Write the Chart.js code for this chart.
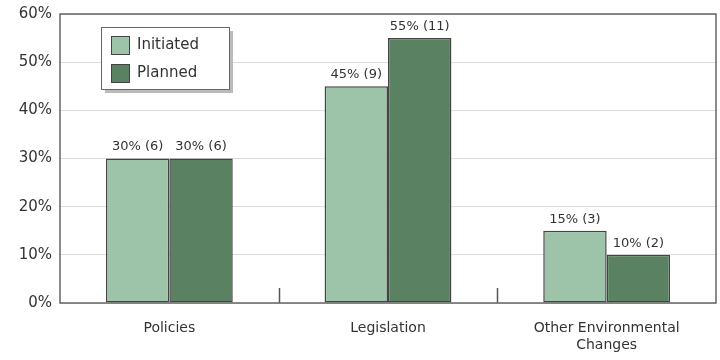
<!DOCTYPE html>
<html>
<head>
<meta charset="utf-8">
<script src="https://cdn.jsdelivr.net/npm/chart.js@4/dist/chart.umd.min.js"></script>
<style>
	html, body { margin: 0; padding: 0; background: #fff; }
	#wrap { width: 720px; height: 360px; }
</style>
</head>
<body>
<div id="wrap"><canvas id="actionsChart" width="720" height="360"></canvas></div>
<script>
// values
const categories = ["Policies", "Legislation", ["Other Environmental", "Changes"]];
const initiatedPct = [30, 45, 15];
const initiatedCount = [6, 9, 3];
const plannedPct = [30, 55, 10];
const plannedCount = [6, 11, 2];
const yTicks = [0, 10, 20, 30, 40, 50, 60];

const FONT = "'DejaVu Sans', Verdana, sans-serif";

// frame, grid marks between groups, value labels and legend box
const decorations = {
	id: "decorations",
	afterDatasetsDraw(chart) {
		const { ctx, chartArea: a, scales } = chart;
		ctx.save();

		// little tick marks between categories
		ctx.strokeStyle = "#555";
		ctx.lineWidth = 1.5;
		for (let i = 0; i < categories.length - 1; i++) {
			const x = Math.round((scales.x.getPixelForValue(i) + scales.x.getPixelForValue(i + 1)) / 2) + 0.5;
			ctx.beginPath();
			ctx.moveTo(x, a.bottom);
			ctx.lineTo(x, a.bottom - 15);
			ctx.stroke();
		}

		// value labels
		ctx.fillStyle = "#333";
		ctx.font = "13px " + FONT;
		ctx.textAlign = "center";
		ctx.textBaseline = "bottom";
		const counts = [initiatedCount, plannedCount];
		chart.data.datasets.forEach((ds, di) => {
			chart.getDatasetMeta(di).data.forEach((bar, i) => {
				ctx.fillText(ds.data[i] + "% (" + counts[di][i] + ")", bar.x, bar.y - 5);
			});
		});

		// plot frame
		ctx.strokeStyle = "#666";
		ctx.lineWidth = 1.5;
		ctx.strokeRect(a.left, a.top, a.right - a.left, a.bottom - a.top);

		// legend
		const lx = a.left + 41, ly = a.top + 13, lw = 128, lh = 62;
		ctx.fillStyle = "#bbb";
		ctx.fillRect(lx + 4, ly + 4, lw, lh);
		ctx.fillStyle = "#fff";
		ctx.fillRect(lx, ly, lw, lh);
		ctx.strokeStyle = "#666";
		ctx.lineWidth = 1;
		ctx.strokeRect(lx + 0.5, ly + 0.5, lw, lh);
		ctx.font = "15px " + FONT;
		ctx.textAlign = "left";
		ctx.textBaseline = "middle";
		chart.data.datasets.forEach((ds, di) => {
			const y = ly + 18 + di * 28;
			ctx.fillStyle = ds.backgroundColor;
			ctx.fillRect(lx + 10, y - 9, 18, 18);
			ctx.strokeStyle = "#444";
			ctx.strokeRect(lx + 10.5, y - 8.5, 18, 18);
			ctx.fillStyle = "#333";
			ctx.fillText(ds.label, lx + 36, y);
		});

		ctx.restore();
	},
};

const ctx = document.getElementById("actionsChart").getContext("2d");
new Chart(ctx, {
	type: "bar",
	data: {
		labels: categories,
		datasets: [
			{
				label: "Initiated",
				data: initiatedPct,
				backgroundColor: "#9dc3a9",
				borderColor: "#444",
				borderWidth: 1.5,
				borderSkipped: false,
			},
			{
				label: "Planned",
				data: plannedPct,
				backgroundColor: "#5a8262",
				borderColor: "#444",
				borderWidth: 1.5,
				borderSkipped: false,
			},
		],
	},
	options: {
		responsive: false,
		animation: false,
		layout: { padding: { top: 14, right: 4, left: 0, bottom: 0 } },
		datasets: { bar: { categoryPercentage: 0.58, barPercentage: 1.0 } },
		plugins: {
			legend: { display: false },
			tooltip: { enabled: false },
		},
		scales: {
			x: {
				grid: { display: false },
				border: { display: false },
				ticks: {
					color: "#333",
					font: { family: FONT, size: 14 },
					padding: 9,
					maxRotation: 0,
				},
				afterFit(scale) { scale.height = 57; },
			},
			y: {
				min: 0,
				max: 60,
				afterBuildTicks(scale) { scale.ticks = yTicks.map((v) => ({ value: v })); },
				grid: { color: "#dcdcdc", lineWidth: 1, drawTicks: false },
				border: { display: false },
				ticks: {
					color: "#333",
					font: { family: FONT, size: 15 },
					padding: 8,
					callback: (v) => v + "%",
				},
				afterFit(scale) {
					scale.width = 60;
					scale.paddingTop = 0;
					scale.paddingBottom = 0;
				},
			},
		},
	},
	plugins: [decorations],
});
</script>
</body>
</html>
